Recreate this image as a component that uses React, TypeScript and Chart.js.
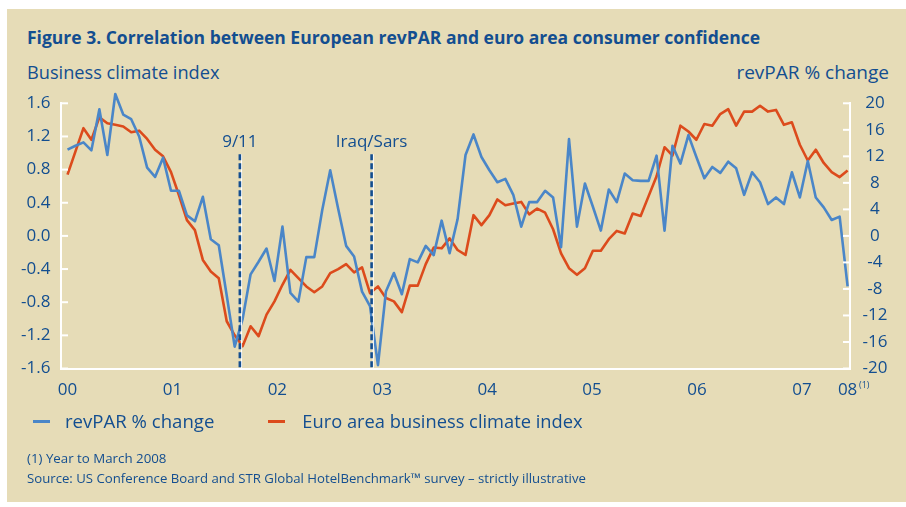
import React, { useEffect, useRef } from 'react';
import { Chart, registerables } from 'chart.js';

Chart.register(...registerables);

// ---------- data ----------
const businessClimateIndex = [
  0.74, 1.02, 1.30, 1.16, 1.43, 1.36, 1.34, 1.32, 1.25, 1.27,
  1.17, 1.04, 0.96, 0.77, 0.49, 0.19, 0.07, -0.29, -0.43, -0.51,
  -1.03, -1.2, -1.33, -1.09, -1.21, -0.95, -0.79, -0.59, -0.41, -0.51,
  -0.61, -0.68, -0.61, -0.45, -0.40, -0.34, -0.44, -0.38, -0.69, -0.61,
  -0.75, -0.79, -0.92, -0.60, -0.60, -0.34, -0.14, -0.15, -0.03, -0.17,
  -0.23, 0.25, 0.13, 0.25, 0.44, 0.37, 0.39, 0.41, 0.26, 0.33,
  0.28, 0.08, -0.21, -0.39, -0.47, -0.39, -0.18, -0.18, -0.04, 0.06,
  0.03, 0.27, 0.24, 0.48, 0.72, 1.07, 0.97, 1.33, 1.26, 1.16,
  1.35, 1.33, 1.47, 1.53, 1.33, 1.50, 1.50, 1.57, 1.50, 1.52,
  1.34, 1.37, 1.10, 0.91, 1.04, 0.88, 0.77, 0.71, 0.79,
];

const revparChange = [
  13.0, 13.6, 14.1, 12.9, 19.1, 12.2, 21.4, 18.3, 17.6, 15.0,
  10.3, 8.9, 11.8, 6.8, 6.8, 3.1, 2.2, 5.9, -0.5, -1.4,
  -9.0, -16.7, -12.5, -5.8, -3.9, -1.9, -6.8, 1.4, -8.6, -9.9,
  -3.2, -3.2, 3.9, 9.9, 4.1, -1.5, -3.1, -8.4, -10.6, -19.5,
  -8.4, -5.6, -8.8, -3.5, -4.0, -1.5, -2.9, 2.3, -2.6, 2.5,
  12.2, 15.3, 11.9, 9.9, 8.1, 8.6, 6.2, 1.4, 5.1, 5.1,
  6.8, 5.8, -1.7, 14.6, 1.4, 7.9, 4.4, 0.8, 7.0, 5.1,
  9.4, 8.4, 8.3, 8.3, 12.1, 0.8, 13.6, 10.9, 15.2, 11.9,
  8.7, 10.4, 9.5, 11.2, 10.2, 6.2, 9.6, 8.1, 4.8, 5.8,
  4.8, 9.6, 5.8, 11.3, 5.8, 4.3, 2.4, 2.9, -7.6,
];

const yearLabels = ['00', '01', '02', '03', '04', '05', '06', '07', '08'];
const yearTickPositions = [0, 13.18, 26.36, 39.54, 52.72, 65.9, 79.08, 92.26, 98];
const eventLabels = ['9/11', 'Iraq/Sars'];
const eventPositions = [21.65, 38.2];
const xRange = [-0.82, 98.3];
const leftRange = [-1.6, 1.6, 0.4];
const rightRange = [-20, 20, 4];

const seriesNames = ['revPAR % change', 'Euro area business climate index'];

// ---------- style ----------
const FONT = '"Open Sans", sans-serif';
const TEXT = '#134E90';
const BLUE = '#4A86C8';
const ORANGE = '#DC4B1C';
const BEIGE = '#E6DCB7';

export default function App() {
  const canvasRef = useRef<HTMLCanvasElement>(null);

  useEffect(() => {
    document.body.style.margin = '0';
    const canvas = canvasRef.current;
    if (!canvas) return;

    const overlay = {
      id: 'overlay',
      afterDatasetsDraw(chart: any) {
        const { ctx, chartArea, scales } = chart;
        ctx.save();
        eventPositions.forEach((pos, k) => {
          const px = scales.x.getPixelForValue(pos);
          const top = chartArea.top + 51;
          ctx.setLineDash([]);
          ctx.strokeStyle = '#FFFFFF';
          ctx.lineWidth = 1.2;
          ctx.beginPath();
          ctx.moveTo(px + 1.6, top);
          ctx.lineTo(px + 1.6, chartArea.bottom);
          ctx.stroke();
          ctx.setLineDash([6, 3]);
          ctx.strokeStyle = TEXT;
          ctx.lineWidth = 2.6;
          ctx.beginPath();
          ctx.moveTo(px, top);
          ctx.lineTo(px, chartArea.bottom);
          ctx.stroke();
          ctx.setLineDash([]);
          ctx.fillStyle = TEXT;
          ctx.font = `17px ${FONT}`;
          ctx.textAlign = 'center';
          ctx.textBaseline = 'middle';
          ctx.fillText(eventLabels[k], px, top - 12);
        });
        ctx.restore();
      },
      afterDraw(chart: any) {
        const { ctx, chartArea, scales } = chart;
        ctx.save();
        ctx.strokeStyle = '#FFFFFF';
        ctx.lineWidth = 2;
        scales.y.ticks.forEach((t: any) => {
          const py = scales.y.getPixelForValue(t.value);
          ctx.beginPath();
          ctx.moveTo(chartArea.left, py);
          ctx.lineTo(chartArea.left + 7, py);
          ctx.stroke();
        });
        scales.y1.ticks.forEach((t: any) => {
          const py = scales.y1.getPixelForValue(t.value);
          ctx.beginPath();
          ctx.moveTo(chartArea.right - 7, py);
          ctx.lineTo(chartArea.right, py);
          ctx.stroke();
        });
        ctx.restore();
      },
    };

    const chart = new Chart(canvas, {
      type: 'line',
      data: {
        datasets: [
          {
            label: seriesNames[0],
            data: revparChange.map((v, i) => ({ x: i, y: v })),
            yAxisID: 'y1',
            borderColor: BLUE,
            borderWidth: 2.6,
            pointRadius: 0,
            tension: 0,
            clip: false,
            borderJoinStyle: 'round',
          },
          {
            label: seriesNames[1],
            data: businessClimateIndex.map((v, i) => ({ x: i, y: v })),
            yAxisID: 'y',
            borderColor: ORANGE,
            borderWidth: 2.6,
            pointRadius: 0,
            tension: 0,
            clip: false,
            borderJoinStyle: 'round',
          },
        ],
      },
      options: {
        responsive: false,
        animation: false,
        devicePixelRatio: 1,
        layout: { padding: { left: 0, right: 0, top: 103.3, bottom: 108.5 } },
        plugins: { legend: { display: false }, tooltip: { enabled: false }, title: { display: false } },
        scales: {
          x: {
            type: 'linear',
            min: xRange[0],
            max: xRange[1],
            grid: { display: false, drawTicks: false },
            border: { display: true, color: '#FFFFFF', width: 2 },
            afterBuildTicks: (axis: any) => {
              axis.ticks = yearTickPositions.map((v) => ({ value: v }));
            },
            afterFit: (axis: any) => { axis.height = 30; },
            ticks: {
              autoSkip: false,
              maxRotation: 0,
              padding: 11,
              color: TEXT,
              font: { family: FONT, size: 17 },
              callback: (_v: any, idx: number) => yearLabels[idx],
            },
          },
          y: {
            position: 'left',
            min: leftRange[0],
            max: leftRange[1],
            grid: { display: false, drawTicks: false },
            border: { display: true, color: '#FFFFFF', width: 2 },
            afterFit: (axis: any) => { axis.width = 61; },
            ticks: {
              stepSize: leftRange[2],
              padding: 10.5,
              color: TEXT,
              font: { family: FONT, size: 17 },
              callback: (v: any) => (Math.abs(v) < 1e-9 ? 0 : Number(v)).toFixed(1),
            },
          },
          y1: {
            position: 'right',
            min: rightRange[0],
            max: rightRange[1],
            grid: { display: false, drawTicks: false },
            border: { display: true, color: '#FFFFFF', width: 2 },
            afterFit: (axis: any) => { axis.width = 56; },
            ticks: {
              stepSize: rightRange[2],
              padding: 12.5,
              crossAlign: 'center',
              color: TEXT,
              font: { family: FONT, size: 17 },
              callback: (v: any) => String(Math.round(Number(v))),
            },
          },
        },
      },
      plugins: [overlay],
    } as any);

    return () => chart.destroy();
  }, []);

  const txt = (extra: React.CSSProperties): React.CSSProperties => ({
    position: 'absolute',
    color: TEXT,
    fontFamily: FONT,
    lineHeight: 1,
    whiteSpace: 'nowrap',
    ...extra,
  });

  return (
    <div style={{ position: 'relative', width: 906, height: 507, background: '#FFFFFF', overflow: 'hidden' }}>
      <div style={{ position: 'absolute', left: 7, top: 9, width: 899, height: 493, background: BEIGE }} />
      <div style={txt({ left: 27, top: 28.5, fontSize: 17.5, fontWeight: 700 })}>
        Figure 3. Correlation between European revPAR and euro area consumer confidence
      </div>
      <div style={txt({ left: 27, top: 62.5, fontSize: 18.2 })}>Business climate index</div>
      <div style={txt({ right: 906 - 889, top: 62.5, fontSize: 19 })}>revPAR % change</div>
      <canvas ref={canvasRef} width={906} height={507} style={{ position: 'absolute', left: 0, top: 0, width: 906, height: 507 }} />
      <div style={txt({ left: 859, top: 380, fontSize: 9 })}>(1)</div>
      <div style={{ position: 'absolute', left: 33, top: 411, display: 'flex', alignItems: 'center', height: 20 }}>
        <span style={{ display: 'inline-block', width: 17, height: 3, background: BLUE }} />
        <span style={{ marginLeft: 15, color: TEXT, fontFamily: FONT, fontSize: 18.6, lineHeight: 1 }}>{seriesNames[0]}</span>
        <span style={{ display: 'inline-block', width: 17, height: 3, background: ORANGE, marginLeft: 54 }} />
        <span style={{ marginLeft: 17, color: TEXT, fontFamily: FONT, fontSize: 18.3, lineHeight: 1 }}>{seriesNames[1]}</span>
      </div>
      <div style={txt({ left: 27, top: 452, fontSize: 13.3 })}>(1) Year to March 2008</div>
      <div style={txt({ left: 27, top: 472, fontSize: 13.2 })}>
        Source: US Conference Board and STR Global HotelBenchmark™ survey – strictly illustrative
      </div>
    </div>
  );
}
